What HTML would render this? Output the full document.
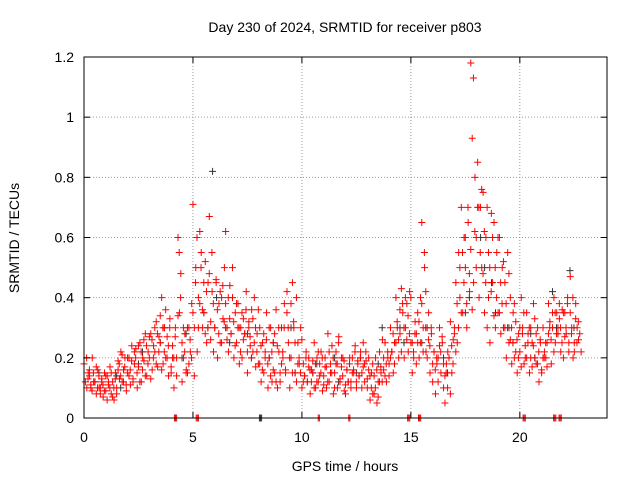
<!DOCTYPE html>
<html><head><meta charset="utf-8"><style>
body{margin:0;background:#fff}
svg{display:block;font-family:"Liberation Sans",sans-serif}
</style></head><body>
<svg id="chart" width="640" height="480" viewBox="0 0 640 480">
<rect width="640" height="480" fill="#fff"/>
<g id="grid"></g>
<g id="marks"></g>
<rect x="84" y="57" width="523" height="361" fill="none" stroke="#000" stroke-width="1"/>
<g id="axes"></g>
<text x="345" y="32" text-anchor="middle" font-size="14">Day 230 of 2024, SRMTID for receiver p803</text>
<text x="345" y="471" text-anchor="middle" font-size="14">GPS time / hours</text>
<text x="19" y="238" text-anchor="middle" font-size="14" transform="rotate(-90 19 238)">SRMTID / TECUs</text>
</svg>
<script>
const xTicks=[0,5,10,15,20];
const yTicks=[0,0.2,0.4,0.6,0.8,1,1.2];
const yTickLabels=["0","0.2","0.4","0.6","0.8","1","1.2"];
const redT=[0,0.25,0.5,0.75,1,1.25,1.5,1.75,2,2.25,2.5,2.75,3,3.25,3.5,3.75,4,4.25,4.5,4.75,5,5.25,5.5,5.75,6,6.25,6.5,6.75,7,7.25,7.5,7.75,8,8.25,8.5,8.75,9,9.25,9.5,9.75,10,10.25,10.5,10.75,11,11.25,11.5,11.75,12,12.25,12.5,12.75,13,13.25,13.5,13.75,14,14.25,14.5,14.75,15,15.25,15.5,15.75,16,16.25,16.5,16.75,17,17.25,17.5,17.75,18,18.25,18.5,18.75,19,19.25,19.5,19.75,20,20.25,20.5,20.75,21,21.25,21.5,21.75,22,22.25,22.5];
const redV=[[.18,.12,.1,.15],[.14,.1,.2,.12],[.12,.08,.16,.1],[.1,.13,.07,.15],
[.09,.14,.11,.17],[.08,.12,.06,.15],[.1,.19,.13,.22],[.12,.16,.2,.09],
[.15,.2,.11,.24],[.13,.18,.23,.1],[.17,.25,.12,.2],[.19,.28,.14,.22],
[.2,.28,.16,.24],[.22,.32,.17,.27],[.25,.4,.18,.3],[.2,.27,.14,.33],
[.15,.24,.1,.3],[.2,.6,.35,.48],[.12,.2,.28,.16],[.15,.3,.22,.38],
[.71,.3,.5,.22],[.4,.62,.55,.3],[.35,.52,.25,.45],[.67,.32,.42,.22],
[.3,.45,.2,.38],[.25,.4,.33,.5],[.62,.3,.22,.44],[.28,.4,.2,.35],
[.25,.38,.18,.3],[.2,.33,.28,.42],[.15,.3,.24,.36],[.22,.4,.17,.28],
[.18,.3,.12,.25],[.15,.22,.35,.1],[.2,.3,.12,.25],[.15,.36,.1,.22],
[.12,.3,.2,.38],[.15,.42,.25,.1],[.2,.45,.3,.15],[.12,.25,.18,.3],
[.1,.18,.14,.22],[.12,.2,.08,.16],[.15,.25,.1,.2],[.12,.18,.22,.09],
[.14,.2,.1,.28],[.12,.18,.24,.08],[.15,.22,.1,.27],[.12,.17,.2,.09],
[.08,.16,.12,.2],[.12,.2,.15,.24],[.1,.18,.14,.22],[.15,.25,.12,.19],
[.1,.2,.06,.15],[.08,.14,.2,.05],[.12,.22,.15,.26],[.16,.25,.12,.2],
[.18,.3,.22,.15],[.25,.4,.3,.2],[.28,.43,.35,.2],[.3,.38,.22,.42],
[.25,.15,.2,.32],[.28,.35,.2,.4],[.65,.3,.5,.22],[.2,.35,.15,.28],
[.12,.22,.08,.18],[.2,.3,.15,.25],[.1,.05,.18,.22],[.2,.32,.15,.26],
[.3,.45,.25,.55],[.4,.7,.35,.6],[.5,.3,.65,.42],[1.18,.93,.45,.8],
[.6,.85,.4,.7],[.5,.75,.35,.6],[.3,.55,.25,.68],[.45,.65,.3,.55],
[.35,.6,.28,.5],[.3,.45,.2,.55],[.25,.4,.18,.35],[.2,.32,.15,.28],
[.22,.4,.3,.18],[.2,.35,.28,.15],[.3,.25,.38,.2],[.18,.3,.12,.25],
[.15,.3,.22,.2],[.25,.38,.32,.18],[.3,.4,.25,.35],[.28,.33,.22,.36],
[.2,.35,.28,.4],[.25,.47,.3,.2],[.22,.38,.3,.26]];
const redT2=[0.12,0.37,0.62,0.87,1.12,1.37,1.62,1.87,2.12,2.37,2.62,2.87,3.12,3.37,3.62,3.87,4.12,4.37,4.62,4.87,5.12,5.37,5.62,5.87,6.12,6.37,6.62,6.87,7.12,7.37,7.62,7.87,8.12,8.37,8.62,8.87,9.12,9.37,9.62,9.87,10.12,10.37,10.62,10.87,11.12,11.37,11.62,11.87,12.12,12.37,12.62,12.87,13.12,13.37,13.62,13.87,14.12,14.37,14.62,14.87,15.12,15.37,15.62,15.87,16.12,16.37,16.62,16.87,17.12,17.37,17.62,17.87,18.12,18.37,18.62,18.87,19.12,19.37,19.62,19.87,20.12,20.37,20.62,20.87,21.12,21.37,21.62,21.87,22.12,22.37,22.62];
const redV2=[[.2,.13,.16,.11],[.09,.15,.12,.17],[.1,.14,.08,.12],[.11,.09,.14,.06],
[.12,.1,.15,.07],[.1,.13,.08,.16],[.18,.14,.21,.12],[.17,.11,.2,.14],
[.16,.19,.12,.22],[.2,.15,.24,.12],[.22,.16,.26,.14],[.24,.18,.27,.13],
[.26,.2,.3,.18],[.28,.22,.34,.16],[.3,.22,.36,.2],[.24,.3,.17,.2],
[.2,.27,.14,.34],[.55,.4,.25,.3],[.22,.15,.3,.18],[.26,.2,.35,.14],
[.45,.6,.3,.38],[.5,.36,.45,.28],[.42,.3,.48,.26],[.55,.38,.3,.46],
[.36,.28,.42,.25],[.44,.32,.38,.26],[.4,.33,.28,.5],[.32,.24,.38,.3],
[.3,.22,.35,.26],[.28,.36,.22,.32],[.27,.2,.33,.25],[.3,.22,.36,.18],
[.24,.16,.28,.2],[.26,.18,.3,.14],[.22,.16,.28,.12],[.24,.3,.15,.18],
[.22,.3,.16,.35],[.3,.2,.38,.15],[.32,.25,.4,.18],[.2,.15,.26,.12],
[.14,.2,.12,.17],[.16,.12,.19,.1],[.18,.12,.22,.14],[.15,.2,.11,.17],
[.17,.12,.22,.15],[.15,.2,.1,.18],[.18,.25,.13,.2],[.14,.19,.11,.16],
[.12,.18,.1,.15],[.16,.22,.12,.19],[.14,.2,.1,.17],[.18,.22,.13,.16],
[.14,.1,.18,.08],[.1,.16,.07,.12],[.17,.12,.2,.14],[.18,.22,.14,.2],
[.22,.28,.18,.25],[.32,.26,.36,.22],[.38,.3,.4,.26],[.34,.28,.4,.25],
[.22,.28,.18,.25],[.32,.25,.38,.22],[.55,.42,.3,.26],[.24,.3,.18,.22],
[.16,.2,.12,.24],[.22,.27,.18,.14],[.15,.1,.2,.08],[.24,.18,.28,.22],
[.38,.3,.5,.35],[.55,.45,.6,.38],[.7,.48,.56,.36],[1.13,.62,.5,.7],
[.7,.55,.76,.48],[.62,.45,.7,.4],[.5,.42,.6,.34],[.5,.4,.6,.35],
[.45,.38,.52,.3],[.38,.3,.48,.26],[.3,.25,.38,.22],[.26,.2,.3,.17],
[.28,.35,.24,.2],[.25,.3,.2,.17],[.24,.33,.28,.18],[.22,.26,.16,.2],
[.2,.25,.17,.28],[.3,.26,.35,.22],[.35,.28,.3,.38],[.3,.25,.35,.27],
[.3,.38,.22,.35],[.28,.4,.25,.33],[.25,.32,.28,.22]];
const blackT=[0.5,1.5,2.5,3.5,4.5,5.5,5.9,6.5,7.5,8.5,9.5,10.5,11.5,12.5,13.5,14.5,15.5,16.5,17.5,18.2,18.7,19.5,20.5,21.5,22.3];
const blackV=[[.12,.15],[.14,.1],[.18,.22],[.25,.3],[.2,.28],[.35,.3],[.82,.4],[.3,.25],[.28,.2],[.2,.25],[.3,.15],[.15,.18],[.2,.12],[.15,.2],[.18,.3],[.3,.25],[.25,.3],[.2,.15],[.35,.4],[.6,.5],[.45,.35],[.3,.25],[.28,.2],[.42,.3],[.49,.3]];
const zeroRedT=[4.15,4.2,4.25,5.15,5.2,5.25,10.75,10.8,12.15,12.2,14.85,14.9,14.95,15.35,15.4,15.45,20.15,20.2,20.25,21.55,21.6,21.65,21.8,21.85,21.9];
const zeroBlackT=[8.05,8.1,8.15];

const NS="http://www.w3.org/2000/svg";
const X=t=>84+t*(523/24), Y=v=>418-v*(361/1.2);
const grid=document.getElementById('grid'),axes=document.getElementById('axes'),marks=document.getElementById('marks');
function mk(tag,attrs,parent){const e=document.createElementNS(NS,tag);for(const k in attrs)e.setAttribute(k,attrs[k]);parent.appendChild(e);return e;}
xTicks.forEach(t=>{
  const g=mk('line',{x1:X(t),x2:X(t),y1:57,y2:418,stroke:'#999','stroke-dasharray':'1,2'},grid);
  
  
  mk('line',{x1:X(t),x2:X(t),y1:418,y2:412,stroke:'#000'},axes);
  mk('line',{x1:X(t),x2:X(t),y1:57,y2:63,stroke:'#000'},axes);
  const l=mk('text',{x:X(t),y:442,'text-anchor':'middle','font-size':14},axes);l.textContent=t;
  
  
});
yTicks.forEach((v,i)=>{
  const g=mk('line',{x1:84,x2:607,y1:Y(v),y2:Y(v),stroke:'#999','stroke-dasharray':'1,2'},grid);
  
  
  mk('line',{x1:84,x2:90,y1:Y(v),y2:Y(v),stroke:'#000'},axes);
  mk('line',{x1:601,x2:607,y1:Y(v),y2:Y(v),stroke:'#000'},axes);
  const l=mk('text',{x:74,y:Y(v)+5,'text-anchor':'end','font-size':14},axes);l.textContent=yTickLabels[i];
  
  
});
function plus(x,y,c,name){
  const p=mk('path',{d:`M${x-3.5},${y}h7M${x},${y-3.5}v7`,stroke:c,'stroke-width':1,fill:'none'},marks);
  
  
}
blackT.forEach((t,i)=>blackV[i].forEach((v,k)=>plus(X(t)+k*4,Y(v),'#333','black-point')));
redT.forEach((t,i)=>redV[i].forEach((v,k)=>plus(X(t)+k*1.4,Y(v),'#ff0000','red-point')));
redT2.forEach((t,i)=>redV2[i].forEach((v,k)=>plus(X(t)+k*1.4,Y(v),'#ff0000','red-point')));
zeroBlackT.forEach(t=>plus(X(t),418,'#333','black-zero-point'));
zeroRedT.forEach(t=>plus(X(t),418,'#ff0000','red-zero-point'));
</script>
</body></html>
